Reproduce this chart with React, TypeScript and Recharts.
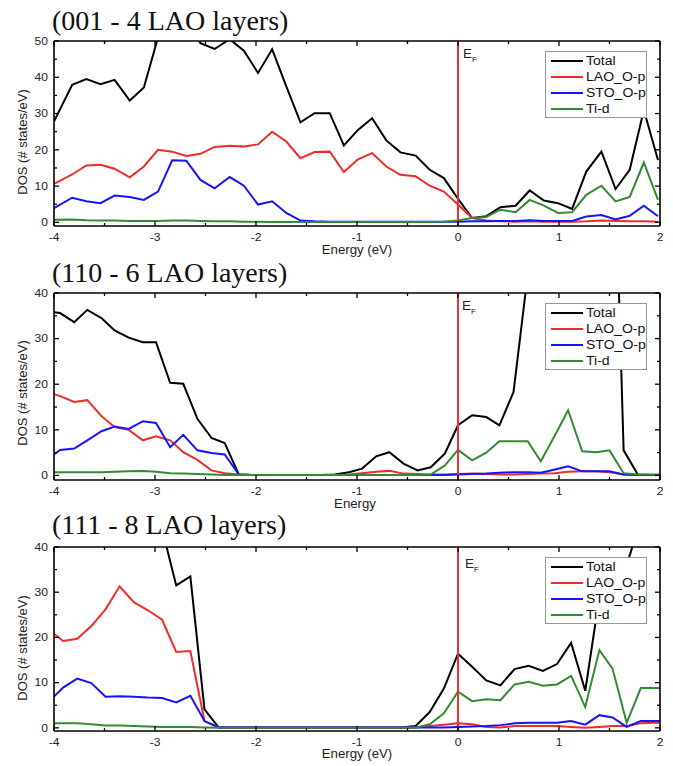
import React from 'react';
import { LineChart, Line, XAxis, YAxis, ReferenceLine, Legend } from 'recharts';

// (001 - 4 LAO layers)
const energy001 = [-4.0, -3.82, -3.68, -3.54, -3.4, -3.25, -3.11, -2.97, -2.83, -2.69, -2.55, -2.41, -2.26, -2.12, -1.98, -1.84, -1.7, -1.56, -1.42, -1.27, -1.13, -0.99, -0.85, -0.71, -0.57, -0.42, -0.28, -0.14, 0, 0.14, 0.28, 0.42, 0.57, 0.71, 0.85, 0.99, 1.13, 1.27, 1.42, 1.56, 1.7, 1.84, 1.98];
const total001 = [27.8, 37.9, 39.5, 38.1, 39.3, 33.6, 37.2, 51, 56, 55, 49.4, 47.8, 50.5, 47.3, 41.2, 47.7, 37.5, 27.6, 30.1, 30.1, 21.2, 25.5, 28.7, 22.6, 19.3, 18.4, 14.5, 12.2, 6.5, 1.2, 1.7, 4.2, 4.6, 8.8, 6.0, 5.3, 3.7, 14.0, 19.5, 9.2, 14.5, 31.0, 17.2];
const lao001 = [10.6, 13.2, 15.7, 15.9, 14.8, 12.4, 15.4, 20.0, 19.5, 18.3, 18.9, 20.8, 21.1, 20.9, 21.5, 25.0, 22.3, 17.7, 19.4, 19.5, 13.9, 17.4, 19.1, 15.4, 13.1, 12.7, 10.1, 8.5, 4.9, 1.2, 0.5, 0.3, 0.2, 0.3, 0.2, 0.2, 0.2, 0.3, 0.5, 0.4, 0.3, 0.3, 0.2];
const sto001 = [3.9, 6.8, 5.8, 5.3, 7.4, 7.0, 6.2, 8.5, 17.1, 17.0, 11.7, 9.4, 12.5, 10.1, 4.9, 5.8, 2.6, 0.5, 0.3, 0.2, 0.2, 0.2, 0.2, 0.2, 0.2, 0.2, 0.2, 0.2, 0.2, 0.3, 0.3, 0.4, 0.4, 0.6, 0.4, 0.4, 0.4, 1.6, 2.0, 0.8, 1.8, 4.6, 1.7];
const ti001 = [0.7, 0.8, 0.6, 0.5, 0.5, 0.4, 0.4, 0.4, 0.5, 0.5, 0.4, 0.3, 0.3, 0.2, 0.2, 0.1, 0.1, 0.1, 0.1, 0.1, 0.1, 0.1, 0.1, 0.1, 0.1, 0.1, 0.1, 0.2, 0.5, 1.2, 1.5, 3.5, 2.8, 6.2, 4.6, 2.6, 2.8, 7.6, 10.1, 5.8, 7.0, 16.5, 6.2];

// (110 - 6 LAO layers)
const energy110 = [-4.0, -3.94, -3.8, -3.67, -3.53, -3.4, -3.26, -3.12, -2.99, -2.85, -2.72, -2.58, -2.44, -2.31, -2.17, -2.04, -1.9, -1.76, -1.63, -1.49, -1.36, -1.22, -1.08, -0.95, -0.81, -0.68, -0.54, -0.4, -0.27, -0.13, 0, 0.14, 0.28, 0.41, 0.55, 0.69, 0.82, 0.96, 1.09, 1.23, 1.37, 1.5, 1.64, 1.78, 1.91, 2.05];
const total110 = [35.8, 35.6, 33.6, 36.3, 34.5, 31.8, 30.2, 29.2, 29.2, 20.3, 20.1, 12.4, 8.2, 7.1, 0.2, 0.1, 0.1, 0.1, 0.1, 0.1, 0.1, 0.2, 0.7, 1.5, 4.2, 5.1, 2.6, 1.1, 1.8, 4.8, 11.0, 13.2, 12.8, 11.0, 18.3, 44, 70, 90, 100, 110, 115, 110, 5.5, 0.2, 0.1, 0.1];
const lao110 = [17.8, 17.4, 16.1, 16.5, 13.0, 10.6, 10.0, 7.7, 8.6, 7.7, 5.1, 3.4, 1.1, 0.5, 0.2, 0.1, 0.1, 0.1, 0.1, 0.1, 0.1, 0.1, 0.2, 0.5, 0.8, 1.0, 0.4, 0.3, 0.2, 0.2, 0.3, 0.4, 0.3, 0.2, 0.2, 0.3, 0.4, 0.5, 0.8, 0.9, 0.9, 0.7, 0.2, 0.1, 0.1, 0.1];
const sto110 = [4.6, 5.6, 5.9, 7.7, 9.7, 10.7, 10.2, 11.9, 11.5, 6.2, 8.9, 5.5, 4.9, 4.6, 0.2, 0.1, 0.1, 0.1, 0.1, 0.1, 0.1, 0.1, 0.1, 0.1, 0.1, 0.1, 0.1, 0.1, 0.1, 0.1, 0.2, 0.3, 0.4, 0.6, 0.7, 0.7, 0.6, 1.3, 2.0, 0.9, 0.9, 0.9, 0.2, 0.1, 0.1, 0.1];
const ti110 = [0.7, 0.7, 0.7, 0.7, 0.7, 0.8, 0.9, 1.0, 0.8, 0.5, 0.4, 0.3, 0.2, 0.1, 0.1, 0.1, 0.1, 0.1, 0.1, 0.1, 0.1, 0.1, 0.1, 0.1, 0.1, 0.1, 0.1, 0.1, 0.2, 2.2, 5.6, 3.3, 5.0, 7.5, 7.5, 7.5, 3.1, 8.8, 14.3, 5.3, 5.1, 5.5, 0.5, 0.2, 0.2, 0.2];

// (111 - 8 LAO layers)
const energy111 = [-4.0, -3.91, -3.77, -3.63, -3.49, -3.35, -3.21, -3.07, -2.93, -2.79, -2.65, -2.51, -2.37, -2.23, -2.09, -1.95, -1.81, -1.67, -1.53, -1.4, -1.26, -1.12, -0.98, -0.84, -0.7, -0.56, -0.42, -0.28, -0.14, 0, 0.14, 0.28, 0.42, 0.56, 0.7, 0.84, 0.98, 1.12, 1.26, 1.4, 1.53, 1.67, 1.81, 1.95, 2.09];
const total111 = [62, 64, 68, 72, 76, 80, 74, 66, 44, 31.5, 33.5, 4.1, 0.1, 0.1, 0.1, 0.1, 0.1, 0.1, 0.1, 0.1, 0.1, 0.1, 0.1, 0.1, 0.1, 0.1, 0.4, 3.5, 8.7, 16.4, 13.5, 10.5, 9.4, 13.0, 13.7, 12.6, 14.1, 18.8, 8.2, 29, 35, 36, 46, 50, 50];
const lao111 = [20.8, 19.2, 19.7, 22.5, 26.2, 31.3, 27.8, 26.0, 23.9, 16.8, 17.0, 1.5, 0.1, 0.1, 0.1, 0.1, 0.1, 0.1, 0.1, 0.1, 0.1, 0.1, 0.1, 0.1, 0.1, 0.1, 0.1, 0.4, 0.7, 1.0, 0.8, 0.2, 0.1, 0.4, 0.4, 0.4, 0.4, 0.2, 0.0, 0.2, 0.4, 0.4, 1.0, 1.1, 1.1];
const sto111 = [6.9, 8.9, 10.9, 9.9, 6.9, 7.0, 6.9, 6.7, 6.6, 5.6, 7.1, 1.5, 0.1, 0.1, 0.1, 0.1, 0.1, 0.1, 0.1, 0.1, 0.1, 0.1, 0.1, 0.1, 0.1, 0.1, 0.1, 0.1, 0.1, 0.2, 0.3, 0.4, 0.6, 1.0, 1.1, 1.1, 1.1, 1.5, 0.7, 2.8, 2.3, 0.2, 1.5, 1.5, 1.5];
const ti111 = [1.0, 1.0, 1.0, 0.8, 0.5, 0.5, 0.4, 0.3, 0.2, 0.2, 0.2, 0.1, 0.0, 0.0, 0.0, 0.0, 0.0, 0.0, 0.0, 0.0, 0.0, 0.0, 0.0, 0.0, 0.0, 0.0, 0.0, 0.8, 3.2, 8.0, 5.9, 6.3, 6.1, 9.6, 10.2, 9.3, 9.6, 11.5, 4.6, 17.2, 13.1, 1.1, 8.8, 8.8, 8.8];

const seriesNames = ['Total', 'LAO_O-p', 'STO_O-p', 'Ti-d'];
const seriesKeys = ['total', 'lao', 'sto', 'ti'];
const seriesColors = ['#000000', '#ee2c2c', '#1414ff', '#348a30'];

const xTicks = [-4, -3.5, -3, -2.5, -2, -1.5, -1, -0.5, 0, 0.5, 1, 1.5, 2];
const yTicks50 = [0, 5, 10, 15, 20, 25, 30, 35, 40, 45, 50];
const yTicks40 = [0, 5, 10, 15, 20, 25, 30, 35, 40];

const SANS = '"Liberation Sans", Arial, sans-serif';
const SERIF = '"Liberation Serif", "Times New Roman", serif';
const FRAME = '#000';
const PLOT_RIGHT = 660;

// the source figure is stretched sideways, so small texts get a horizontal scale
function WideText({ x, y, anchor, size, sx, children }: any) {
  return (
    <text transform={`translate(${x},${y}) scale(${sx},1)`} textAnchor={anchor} fontSize={size} fontFamily={SANS} fill="#222">
      {children}
    </text>
  );
}

// bottom ticks, mirrored on the top edge of the frame
function BottomTick({ x, y, payload, plotTop }: any) {
  const len = Number.isInteger(payload.value) ? 5 : 3;
  return (
    <g>
      <line x1={x} y1={y} x2={x} y2={y - len} stroke={FRAME} strokeWidth={1.3} />
      <line x1={x} y1={plotTop} x2={x} y2={plotTop + len} stroke={FRAME} strokeWidth={1.3} />
      {Number.isInteger(payload.value) && (
        <WideText x={x} y={y + 15} anchor="middle" size={10.5} sx={1.15}>
          {payload.value}
        </WideText>
      )}
    </g>
  );
}

// left ticks, mirrored on the right edge of the frame
function LeftTick({ x, y, payload }: any) {
  const major = payload.value % 10 === 0;
  const len = major ? 5 : 3;
  return (
    <g>
      <line x1={x} y1={y} x2={x + len} y2={y} stroke={FRAME} strokeWidth={1.3} />
      <line x1={PLOT_RIGHT} y1={y} x2={PLOT_RIGHT - len} y2={y} stroke={FRAME} strokeWidth={1.3} />
      {major && (
        <WideText x={x - 6} y={y + 3.8} anchor="end" size={10.5} sx={1.15}>
          {payload.value}
        </WideText>
      )}
    </g>
  );
}

function EfLabel({ viewBox, dx, dy }: any) {
  if (!viewBox) return null;
  return (
    <text x={viewBox.x + dx} y={viewBox.y + dy} fontSize={13.5} fontFamily={SANS} fill="#222">
      E
      <tspan fontSize={8} dy={4}>
        F
      </tspan>
    </text>
  );
}

function LegendBox() {
  return (
    <div
      style={{
        width: 100,
        background: '#fff',
        border: '1px solid #999',
        fontFamily: SANS,
        fontSize: 12,
        color: '#111',
        paddingTop: 1,
      }}
    >
      {seriesNames.map((name, i) => (
        <div key={name} style={{ display: 'flex', alignItems: 'center', height: 16 }}>
          <span style={{ display: 'inline-block', width: 32, height: 2, background: seriesColors[i], marginLeft: 5, marginRight: 3 }} />
          <span style={{ display: 'inline-block', transform: 'scaleX(1.17)', transformOrigin: 'left center', whiteSpace: 'nowrap' }}>{name}</span>
        </div>
      ))}
    </div>
  );
}

interface PanelProps {
  top: number;
  height: number;
  plotTop: number;
  plotBottom: number;
  energy: number[];
  total: number[];
  lao: number[];
  sto: number[];
  ti: number[];
  yDomain: [number, number];
  yTicks: number[];
  legendTop: number;
  efDx: number;
  efDy: number;
}

// axes are 1px boxes (recharts skips 0-sized axes), so margins are trimmed by 1
function Panel(p: PanelProps) {
  const data = p.energy.map((e, i) => ({ e, total: p.total[i], lao: p.lao[i], sto: p.sto[i], ti: p.ti[i] }));
  const margin = { top: p.plotTop, right: 13, bottom: p.height - p.plotBottom - 1, left: 53 };
  return (
    <div style={{ position: 'absolute', left: 0, top: p.top }}>
      <LineChart width={673} height={p.height} data={data} margin={margin}>
        <XAxis dataKey="e" type="number" domain={[-4, 2]} ticks={xTicks} allowDataOverflow interval={0} height={1} tickSize={0} tickMargin={0} axisLine={{ stroke: FRAME, strokeWidth: 1.6 }} tickLine={false} tick={<BottomTick plotTop={p.plotTop} />} />
        <YAxis type="number" domain={p.yDomain} ticks={p.yTicks} allowDataOverflow interval={0} width={1} tickSize={0} tickMargin={0} axisLine={{ stroke: FRAME, strokeWidth: 1.6 }} tickLine={false} tick={<LeftTick />} />
        {seriesKeys.map((k, i) => (
          <Line key={k} type="linear" dataKey={k} name={seriesNames[i]} stroke={seriesColors[i]} strokeWidth={2} dot={false} isAnimationActive={false} />
        ))}
        <ReferenceLine y={p.yDomain[1]} stroke={FRAME} strokeWidth={1.6} />
        <ReferenceLine x={2} stroke={FRAME} strokeWidth={1.6} />
        <ReferenceLine x={0} stroke="#f03030" strokeWidth={2} label={<EfLabel dx={p.efDx} dy={p.efDy} />} />
        <Legend layout="vertical" align="center" verticalAlign="middle" wrapperStyle={{ top: p.legendTop, left: 545, width: 102 }} content={() => <LegendBox />} />
      </LineChart>
    </div>
  );
}

const titles = ['(001 - 4 LAO layers)', '(110 - 6 LAO layers)', '(111 - 8 LAO layers)'];

export default function App() {
  return (
    <div style={{ position: 'absolute', left: 0, top: 0, width: 673, height: 766, background: '#fff', overflow: 'hidden' }}>
      <svg width={673} height={766} style={{ position: 'absolute', left: 0, top: 0 }}>
        <g fontFamily={SERIF} fontSize={28} fill="#111">
          <text x={52} y={30}>{titles[0]}</text>
          <text x={52} y={282}>{titles[1]}</text>
          <text x={52} y={534}>{titles[2]}</text>
        </g>
        <WideText x={357} y={254} anchor="middle" size={12} sx={1.1}>Energy (eV)</WideText>
        <WideText x={355} y={508} anchor="middle" size={12} sx={1.1}>Energy</WideText>
        <WideText x={357} y={758} anchor="middle" size={12} sx={1.1}>Energy (eV)</WideText>
        <g fontFamily={SANS} fontSize={13} fill="#222" textAnchor="middle">
          <text transform="translate(27,142) rotate(-90)">DOS (# states/eV)</text>
          <text transform="translate(27,393) rotate(-90)">DOS (# states/eV)</text>
          <text transform="translate(27,648) rotate(-90)">DOS (# states/eV)</text>
        </g>
      </svg>
      <Panel top={0} height={260} plotTop={41} plotBottom={226} energy={energy001} total={total001} lao={lao001} sto={sto001} ti={ti001} yDomain={[-1, 50]} yTicks={yTicks50} legendTop={51} efDx={5} efDy={17} />
      <Panel top={260} height={240} plotTop={33} plotBottom={220} energy={energy110} total={total110} lao={lao110} sto={sto110} ti={ti110} yDomain={[-1, 40]} yTicks={yTicks40} legendTop={43} efDx={4} efDy={17} />
      <Panel top={500} height={266} plotTop={47} plotBottom={231} energy={energy111} total={total111} lao={lao111} sto={sto111} ti={ti111} yDomain={[-0.7, 40]} yTicks={yTicks40} legendTop={57} efDx={7} efDy={21} />
    </div>
  );
}
